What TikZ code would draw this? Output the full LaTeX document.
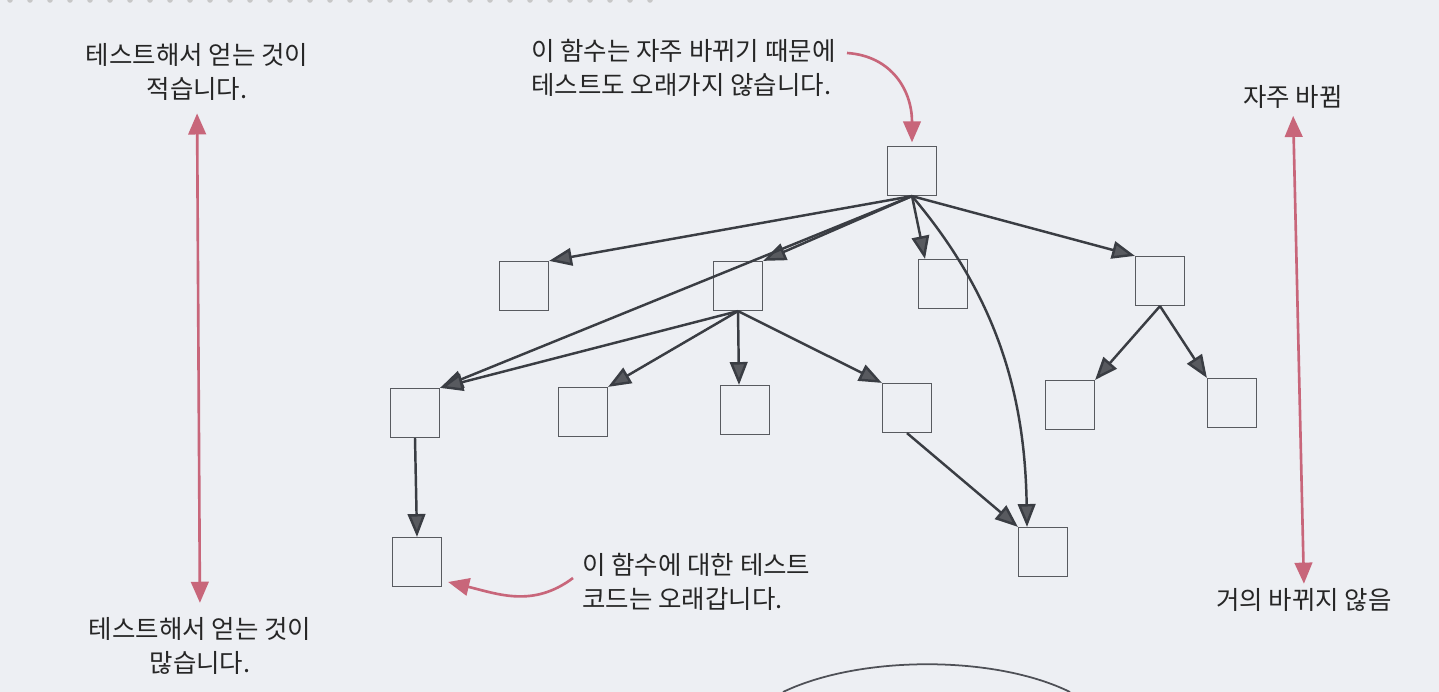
\documentclass[tikz,border=0pt]{standalone}
\usepackage{fontspec}
\setmainfont{Noto Sans CJK KR}
\usepackage{tikz}
\usetikzlibrary{arrows.meta,positioning,calc}
\definecolor{paper}{RGB}{237,239,243}
\definecolor{ink}{RGB}{58,61,67}
\definecolor{rose}{RGB}{200,102,122}
\tikzset{
  fblock/.style={rectangle, draw=ink!85, line width=0.7pt, fill=paper, minimum size=0.98cm, inner sep=0pt},
  darrow/.style={-{Triangle[length=13pt, width=10pt, fill=ink!85]}, line width=1.4pt, ink},
  rarrow/.style={-{Triangle[length=12pt, width=10pt]}, line width=1.5pt, rose},
  rboth/.style={{Triangle[length=12pt, width=10pt]}-{Triangle[length=12pt, width=10pt]}, line width=1.5pt, rose},
  lbl/.style={font=\fontsize{14.5}{19.6}\selectfont, align=center, inner sep=0pt, text=black!85}
}

\begin{document}
\begin{tikzpicture}[x=0.02cm, y=-0.02cm]
        \fill[paper] (0,0) rectangle (1439,692);
        \useasboundingbox (0,0) rectangle (1439,692);
        \foreach \i in {0,...,32} \fill[black!22] (10+20*\i,0) circle (1.6pt);

        \node[fblock] (root) at (912,171) {};
        \node[fblock] (a) at (524,286) {};
        \node[fblock] (b) at (738,286) {};
        \node[fblock] (c) at (943,284) {};
        \node[fblock] (d) at (1160,281) {};
        \node[fblock] (e) at (415,413) {};
        \node[fblock] (f) at (583,412) {};
        \node[fblock] (g) at (745,410) {};
        \node[fblock] (h) at (907,408) {};
        \node[fblock] (i) at (1070,405) {};
        \node[fblock] (j) at (1232,403) {};
        \node[fblock] (k) at (1043,552) {};
        \node[fblock] (m) at (417,562) {};

        \draw[darrow] (root.south) -- (a.north east);
        \draw[darrow] (root.south) -- (b.north east);
        \draw[darrow] (root.south) -- (e.north east);
        \draw[darrow] (root.south) -- ([xshift=-0.36cm]c.north);
        \draw[darrow] (root.south) -- (d.north west);
        \draw[darrow] (root.south) .. controls +(88,104) and +(-2,-127) .. ([xshift=-0.32cm]k.north);
        \draw[darrow] (b.south) -- (e.north east);
        \draw[darrow] (b.south) -- (f.north east);
        \draw[darrow] (b.south) -- ([xshift=-0.12cm]g.north);
        \draw[darrow] (b.south) -- (h.north west);
        \draw[darrow] (e.south) -- (m.north);
        \draw[darrow] (h.south) -- (k.north west);
        \draw[darrow] (d.south) -- (i.north east);
        \draw[darrow] (d.south) -- (j.north west);

        \node[lbl] (few) at (197,72) {테스트해서 얻는 것이\\적습니다.};
        \node[lbl] (many) at (200,646) {테스트해서 얻는 것이\\많습니다.};
        \node[lbl] (often) at (1293,97) {자주 바뀜};
        \node[lbl] (rarely) at (1304,600) {거의 바뀌지 않음};
        \node[lbl, align=left, anchor=west] (notetop) at (531,68) {이 함수는 자주 바뀌기 때문에\\테스트도 오래가지 않습니다.};
        \node[lbl, align=left, anchor=west] (notebot) at (582,582) {이 함수에 대한 테스트\\코드는 오래갑니다.};

        \draw[rboth, shorten <=7pt, shorten >=8pt] (few.south) -- (many.north);
        \draw[rboth, shorten <=4pt, shorten >=2.5pt] (often.south) -- (rarely.north);

        \coordinate (c1) at (847,53);
        \coordinate (c2) at (573,578);
        \draw[rarrow, shorten >=2pt] (c1) .. controls +(45,3) and +(0,-55) .. (root.north);
        \draw[rarrow] (c2) .. controls +(-40,30) and +(50,12) .. ([xshift=0.12cm, yshift=-0.4cm]m.east);

        \draw[ink!90, line width=1pt] (783,692) .. controls (860,655) and (995,655) .. (1070,692);
      \end{tikzpicture}
\end{document}
